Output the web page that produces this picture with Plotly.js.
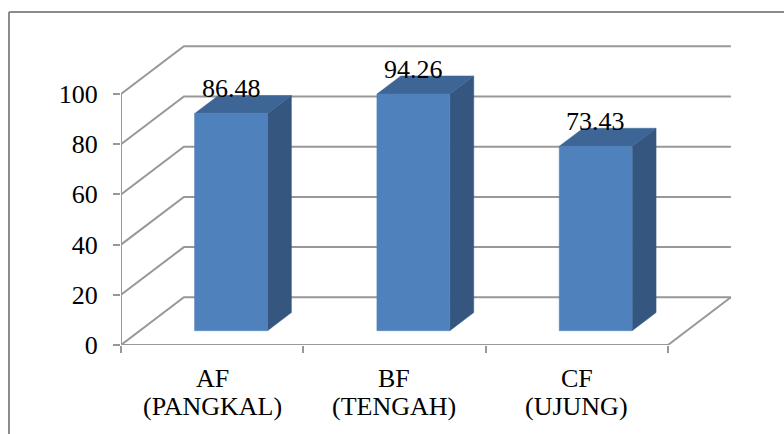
<!DOCTYPE html>
<html>
<head>
<meta charset="utf-8">
<script src="https://cdn.plot.ly/plotly-3.0.1.min.js"></script>
<style>
  html, body { margin: 0; padding: 0; background: #fff; }
  #chart { width: 784px; height: 434px; }
</style>
</head>
<body>
<div id="chart"></div>
<script>
// ---- data ----
const codes = ["AF", "BF", "CF"];
const subNames = ["(PANGKAL)", "(TENGAH)", "(UJUNG)"];
const values = [86.48, 94.26, 73.43];
const labels = ["86.48", "94.26", "73.43"];
const yTicks = [0, 20, 40, 60, 80, 100];

// ---- pseudo-3D projection settings (in axis units) ----
const DX = 0.345;   // depth shift along x for full depth
const DY = 19;      // depth shift along y for full depth
const D0 = 0.30, D1 = 0.68; // bar front/back depth fractions
const HALF = 0.2;   // half bar width
const n = codes.length;

const grid = '#989898';
const font = 'Liberation Serif, Times New Roman, serif';
const traces = [];

// back wall + left wall grid lines
yTicks.forEach(v => {
  traces.push({x: [0, DX, n + DX], y: [v, v + DY, v + DY], mode: 'lines',
    line: {color: grid, width: 2}, hoverinfo: 'skip', showlegend: false});
});
// floor front and right edge, left axis
traces.push({x: [0, n, n + DX], y: [0, 0, DY], mode: 'lines',
  line: {color: grid, width: 2}, hoverinfo: 'skip', showlegend: false});
traces.push({x: [0, 0], y: [0, yTicks[yTicks.length - 1]], mode: 'lines',
  line: {color: grid, width: 2}, hoverinfo: 'skip', showlegend: false});

function poly(xs, ys, color) {
  traces.push({x: xs.concat([xs[0]]), y: ys.concat([ys[0]]), mode: 'lines', fill: 'toself',
    fillcolor: color, line: {color: color, width: 0.5}, hoverinfo: 'skip', showlegend: false});
}

const annotations = [];
values.forEach((v, i) => {
  const cx = i + 0.5 + D0 * DX;
  const xl = cx - HALF, xr = cx + HALF;
  const y0 = D0 * DY, yt = v + D0 * DY;
  const ddx = (D1 - D0) * DX, ddy = (D1 - D0) * DY;
  poly([xr, xr, xr + ddx, xr + ddx], [y0, yt, yt + ddy, y0 + ddy], '#34567F');
  poly([xl, xr, xr + ddx, xl + ddx], [yt, yt, yt + ddy, yt + ddy], '#3D6696');
  poly([xl, xr, xr, xl], [y0, y0, yt, yt], '#4F81BD');
  annotations.push({x: cx, y: yt, text: labels[i], showarrow: false, xanchor: 'center',
    yanchor: 'middle', yshift: 25, font: {family: font, size: 26, color: '#000'}});
  annotations.push({x: i + 0.5, y: 0, text: codes[i], showarrow: false, xanchor: 'center',
    yanchor: 'middle', yshift: -33, font: {family: font, size: 26, color: '#000'}});
  annotations.push({x: i + 0.5, y: 0, text: subNames[i], showarrow: false, xanchor: 'center',
    yanchor: 'middle', yshift: -61, font: {family: font, size: 26, color: '#000'}});
});

const layout = {
  width: 784, height: 434,
  margin: {l: 121, r: 44, t: 40, b: 89},
  paper_bgcolor: '#fff', plot_bgcolor: 'rgba(0,0,0,0)',
  showlegend: false,
  font: {family: font},
  xaxis: {range: [0, 3.395], showgrid: false, zeroline: false, showline: false,
    tickvals: [0, 1, 2, 3], ticktext: ['', '', '', ''], ticks: 'outside', ticklen: 7,
    tickwidth: 2, tickcolor: grid, fixedrange: true},
  yaxis: {range: [0, 121.5], showgrid: false, zeroline: false, showline: false,
    tickvals: yTicks, ticks: 'outside', ticklen: 7, tickwidth: 2, tickcolor: grid,
    ticklabelstandoff: 10,
    tickfont: {family: font, size: 26, color: '#000'}, fixedrange: true},
  annotations: annotations,
  shapes: [
    {type: 'line', xref: 'paper', yref: 'paper', x0: (9 - 121) / 619, x1: (9 - 121) / 619,
      y0: (434 - 12 - 89) / 305, y1: -89 / 305 - 0.05, line: {color: '#8c8c8c', width: 2}},
    {type: 'line', xref: 'paper', yref: 'paper', x0: (9 - 121) / 619, x1: (784 - 121) / 619 + 0.05,
      y0: (434 - 12 - 89) / 305, y1: (434 - 12 - 89) / 305, line: {color: '#8c8c8c', width: 2}}
  ]
};

Plotly.newPlot('chart', traces, layout, {displayModeBar: false, staticPlot: true});
</script>
</body>
</html>
